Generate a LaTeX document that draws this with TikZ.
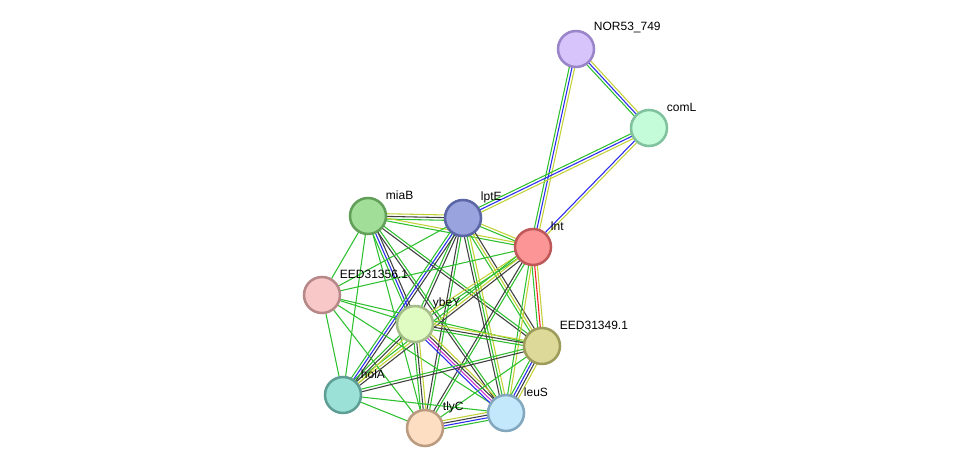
\documentclass[tikz,border=0pt]{standalone}
\usepackage{fontspec}
\setmainfont{Liberation Sans}
\usetikzlibrary{calc,backgrounds}
\definecolor{chgreen}{HTML}{2EC02E}
\definecolor{chblue}{HTML}{2B2BF0}
\definecolor{chblack}{HTML}{404040}
\definecolor{chyellow}{HTML}{C2D136}
\definecolor{chred}{HTML}{F02020}
\definecolor{chmagenta}{HTML}{D030D0}
% node fill / border colours
\definecolor{norF}{HTML}{D6C4FB}\definecolor{norD}{HTML}{9A85C8}
\definecolor{comlF}{HTML}{C4FCDA}\definecolor{comlD}{HTML}{80C29E}
\definecolor{lpteF}{HTML}{99A4DE}\definecolor{lpteD}{HTML}{5A66A5}
\definecolor{miabF}{HTML}{A1DE97}\definecolor{miabD}{HTML}{62A05A}
\definecolor{lntF}{HTML}{FC9696}\definecolor{lntD}{HTML}{BF5858}
\definecolor{e56F}{HTML}{F8C7C7}\definecolor{e56D}{HTML}{B78888}
\definecolor{ybeyF}{HTML}{E1FCC3}\definecolor{ybeyD}{HTML}{A5BD89}
\definecolor{e49F}{HTML}{DDDA99}\definecolor{e49D}{HTML}{9E9C5A}
\definecolor{holaF}{HTML}{9CE1D7}\definecolor{holaD}{HTML}{5E9E95}
\definecolor{tlycF}{HTML}{FDDEC2}\definecolor{tlycD}{HTML}{BA9B7F}
\definecolor{leusF}{HTML}{C3E7FB}\definecolor{leusD}{HTML}{83A8BD}
% edge between two proteins, one thin line per evidence channel
\newcommand\link[3]{%
  \foreach \c [count=\n] in {#3} {\xdef\nch{\n}}%
  \foreach \c [count=\i] in {#3} {%
    \pgfmathsetmacro\off{(\i-(\nch+1)/2)*2.0}%
    \draw[chan,\c] ($(#1.center)!\off pt!90:(#2.center)$) -- ($(#2.center)!\off pt!-90:(#1.center)$);}}

\begin{document}
\begin{tikzpicture}[x=0.75pt,y=-0.75pt,font=\fontsize{9}{10}\selectfont,
  prot/.style={circle,minimum size=27pt,inner sep=0,line width=1.9pt,fill=#1F,draw=#1D},
  lbl/.style={anchor=west,inner sep=0.5pt},
  chan/.style={line width=0.8pt}]
  \useasboundingbox (0,0) rectangle (975,474);
  \node[prot=nor] (nor) at (576,49) {};
  \node[prot=coml] (coml) at (649,128) {};
  \node[prot=lpte] (lpte) at (463,218) {};
  \node[prot=miab] (miab) at (368,216) {};
  \node[prot=lnt] (lnt) at (533,247) {};
  \node[prot=e56] (e56) at (322,295) {};
  \node[prot=ybey] (ybey) at (415,324) {};
  \node[prot=e49] (e49) at (542,346) {};
  \node[prot=hola] (hola) at (343,395) {};
  \node[prot=tlyc] (tlyc) at (425,428) {};
  \node[prot=leus] (leus) at (506,413) {};
  \foreach \p/\t in {nor/NOR53\_749,coml/comL,lpte/lptE,miab/miaB,lnt/lnt,e56/EED31356.1,
      ybey/ybeY,e49/EED31349.1,hola/holA,tlyc/tlyC,leus/leuS}
    \node[lbl] (\p-l) at ($(\p)+(17,-21)$) {\t};
  \begin{pgfonlayer}{background}
    \link{nor}{coml}{chgreen,chblue,chyellow}
    \link{nor}{lnt}{chgreen,chblue,chyellow}
    \link{coml}{lpte}{chgreen,chblue,chyellow}
    \link{coml}{lnt}{chblue,chyellow}
    \link{miab}{lpte}{chgreen,chblack,chyellow}
    \link{miab}{lnt}{chgreen,chyellow}
    \link{miab}{ybey}{chgreen,chblue,chblack}
    \link{miab}{hola}{chgreen}
    \link{miab}{e56}{chgreen}
    \link{miab}{e49}{chblack,chgreen}
    \link{miab}{leus}{chblack,chgreen}
    \link{miab}{tlyc}{chgreen}
    \link{lpte}{lnt}{chgreen,chyellow}
    \link{lpte}{ybey}{chgreen,chblack}
    \link{lpte}{hola}{chgreen,chblue,chblack}
    \link{lpte}{tlyc}{chblack,chgreen}
    \link{lpte}{leus}{chblack,chgreen,chyellow}
    \link{lpte}{e49}{chgreen,chyellow,chblack}
    \link{lpte}{e56}{chgreen}
    \link{lnt}{e49}{chgreen,chred,chyellow}
    \link{lnt}{ybey}{chyellow,chgreen}
    \link{lnt}{hola}{chgreen,chyellow,chblack}
    \link{lnt}{tlyc}{chblack,chgreen}
    \link{lnt}{leus}{chgreen,chyellow}
    \link{lnt}{e56}{chgreen}
    \link{e56}{ybey}{chgreen}
    \link{e56}{e49}{chgreen}
    \link{e56}{hola}{chgreen}
    \link{e56}{tlyc}{chgreen}
    \link{e56}{leus}{chgreen}
    \link{ybey}{e49}{chgreen,chblack,chyellow}
    \link{ybey}{hola}{chgreen,chblack,chyellow}
    \link{ybey}{tlyc}{chgreen,chblack,chyellow}
    \link{ybey}{leus}{chblue,chmagenta,chblack,chyellow}
    \link{e49}{hola}{chgreen,chblack}
    \link{e49}{tlyc}{chgreen}
    \link{e49}{leus}{chgreen,chblue,chblack,chyellow}
    \link{hola}{tlyc}{chgreen}
    \link{hola}{leus}{chgreen}
    \link{tlyc}{leus}{chgreen,chblue,chblack,chyellow}
  \end{pgfonlayer}
\end{tikzpicture}
\end{document}
